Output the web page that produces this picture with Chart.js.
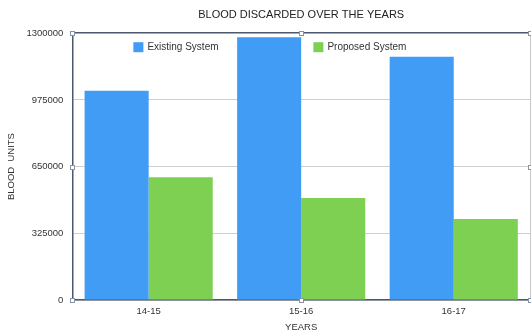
<!DOCTYPE html>
<html>
<head>
<meta charset="utf-8">
<script src="https://cdn.jsdelivr.net/npm/chart.js@4"></script>
<style>
  html,body{margin:0;padding:0;background:#fff;overflow:hidden;}
  #wrap{width:531px;height:331px;position:relative;}
</style>
</head>
<body>
<div id="wrap"><canvas id="chart"></canvas></div>
<script>
const years = ['14-15', '15-16', '16-17'];
const existingSystem = [1020000, 1280000, 1185000];
const proposedSystem = [598000, 497000, 395000];
const yTicks = [0, 325000, 650000, 975000, 1300000];

const FONT = '"Liberation Sans", Arial, sans-serif';
const FRAME = '#4b5870';

// legend drawn inside the plot, near the top
const innerLegend = {
  id: 'innerLegend',
  afterDatasetsDraw(chart){
    const {ctx, chartArea} = chart;
    const xs = [chartArea.left + 61, chartArea.left + 241];
    const y = chartArea.top + 14;
    ctx.save();
    ctx.font = '10px ' + FONT;
    ctx.textBaseline = 'middle';
    chart.data.datasets.forEach((ds, i) => {
      ctx.fillStyle = ds.backgroundColor;
      ctx.fillRect(xs[i], y - 5, 10, 10);
      ctx.fillStyle = '#333';
      ctx.fillText(ds.label, xs[i] + 14, y + 0.5);
    });
    ctx.restore();
  }
};

// selection handles around the plot frame
const frameHandles = {
  id: 'frameHandles',
  afterDraw(chart){
    const {ctx, chartArea:a} = chart;
    const mx = (a.left + a.right) / 2, my = (a.top + a.bottom) / 2;
    const pts = [[a.left,a.top],[mx,a.top],[a.right,a.top],[a.left,my],[a.right,my],[a.left,a.bottom],[mx,a.bottom],[a.right,a.bottom]];
    ctx.save();
    ctx.lineWidth = 1;
    ctx.beginPath();
    ctx.moveTo(a.right + 0.5, a.top);
    ctx.lineTo(a.right + 0.5, a.bottom);
    ctx.strokeStyle = '#c9c9c9';
    ctx.stroke();
    ctx.strokeStyle = '#8a93a3';
    pts.forEach(([x, y]) => {
      ctx.fillStyle = '#fff';
      ctx.fillRect(Math.round(x) - 2, Math.round(y) - 2, 5, 5);
      ctx.strokeRect(Math.round(x) - 2 + 0.5, Math.round(y) - 2 + 0.5, 4, 4);
    });
    ctx.restore();
  }
};

new Chart(document.getElementById('chart'), {
  type: 'bar',
  data: {
    labels: years,
    datasets: [
      {label: 'Existing System', data: existingSystem, backgroundColor: '#409cf5'},
      {label: 'Proposed System', data: proposedSystem, backgroundColor: '#7ed052'}
    ]
  },
  options: {
    responsive: true,
    maintainAspectRatio: false,
    animation: false,
    layout: {padding: {top: 8, right: 1, bottom: 0, left: 6}},
    datasets: {bar: {barPercentage: 1, categoryPercentage: 0.84}},
    plugins: {
      legend: {display: false},
      tooltip: {enabled: false},
      title: {
        display: true,
        fullSize: false,
        text: 'BLOOD DISCARDED OVER THE YEARS',
        color: '#222',
        font: {family: FONT, size: 11, weight: 'normal'},
        padding: {top: 0, bottom: 12}
      }
    },
    scales: {
      x: {
        grid: {display: false, drawTicks: false},
        border: {display: true, color: FRAME, width: 1.5},
        ticks: {color: '#333', font: {family: FONT, size: 9.5}, padding: 6},
        title: {display: true, text: 'YEARS', color: '#333', font: {family: FONT, size: 9.5, lineHeight: 0.8}, padding: {top: 0, bottom: 0}}
      },
      y: {
        min: 0,
        max: 1300000,
        afterBuildTicks(axis){ axis.ticks = yTicks.map(v => ({value: v})); },
        grid: {
          color: c => (c.index === yTicks.length - 1 ? FRAME : '#cfcfcf'),
          lineWidth: c => (c.index === yTicks.length - 1 ? 1.5 : 1),
          tickLength: 0
        },
        border: {display: true, color: FRAME, width: 1.5},
        ticks: {color: '#333', font: {family: FONT, size: 9.5}, padding: 9, callback: v => String(v)},
        title: {display: true, text: 'BLOOD  UNITS', color: '#333', font: {family: FONT, size: 9.5}, padding: {top: 0, bottom: 0}}
      }
    }
  },
  plugins: [innerLegend, frameHandles]
});
</script>
</body>
</html>
